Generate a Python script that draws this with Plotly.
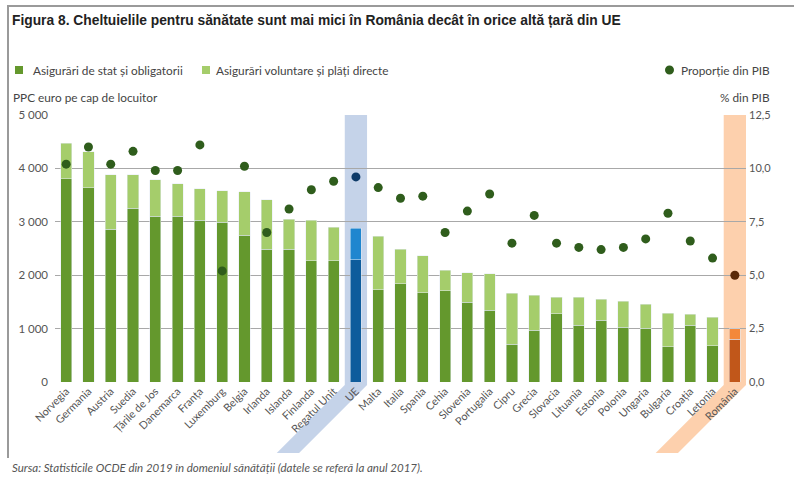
import plotly.graph_objects as go

# date (PPC euro / locuitor si % din PIB)
countries = ["Norvegia", "Germania", "Austria", "Suedia", "Țările de Jos", "Danemarca", "Franța",
             "Luxemburg", "Belgia", "Irlanda", "Islanda", "Finlanda", "Regatul Unit", "UE", "Malta",
             "Italia", "Spania", "Cehia", "Slovenia", "Portugalia", "Cipru", "Grecia", "Slovacia",
             "Lituania", "Estonia", "Polonia", "Ungaria", "Bulgaria", "Croația", "Letonia", "România"]
state = [3810, 3640, 2860, 3250, 3100, 3100, 3030, 2990, 2750, 2490, 2490, 2270, 2270, 2290, 1730,
         1840, 1670, 1710, 1490, 1340, 710, 970, 1280, 1060, 1160, 1030, 1010, 660, 1060, 680, 800]
total = [4470, 4310, 3880, 3880, 3790, 3710, 3620, 3580, 3560, 3410, 3050, 3030, 2900, 2880, 2730,
         2490, 2360, 2090, 2050, 2030, 1660, 1620, 1590, 1590, 1550, 1510, 1460, 1290, 1270, 1210, 1000]
voluntary = [t - s for t, s in zip(total, state)]
gdp_share = [10.2, 11.0, 10.2, 10.8, 9.9, 9.9, 11.1, 5.2, 10.1, 7.0, 8.1, 9.0, 9.4, 9.6, 9.1,
             8.6, 8.7, 7.0, 8.0, 8.8, 6.5, 7.8, 6.5, 6.3, 6.2, 6.3, 6.7, 7.9, 6.6, 5.8, 5.0]

DARK = "#64982d"
LIGHT = "#a5cd6b"
DOT = "#2f5d1c"
EU_DARK, EU_LIGHT, EU_DOT, EU_BAND = "#0e5c9c", "#1f86cf", "#0e3a68", "#c5d3e9"
RO_DARK, RO_LIGHT, RO_DOT, RO_BAND = "#c1571a", "#f4883a", "#5a2806", "#fdd0ad"
TEXT = "#444444"
FONT = "Lato, sans-serif"

W, H = 794, 477
L, R, T, B = 55, 746, 115, 382  # plot area in pixels


def px(x):
    return (x - L) / (R - L)


def py(y):
    return (B - y) / (B - T)


def pick(c, normal, eu, ro):
    return eu if c == "UE" else ro if c == "România" else normal


fig = go.Figure()
fig.add_trace(go.Bar(
    x=countries, y=state, name="Asigurări de stat și obligatorii",
    marker=dict(color=[pick(c, DARK, EU_DARK, RO_DARK) for c in countries]),
    width=0.5, showlegend=False,
))
fig.add_trace(go.Bar(
    x=countries, y=voluntary, name="Asigurări voluntare și plăți directe",
    marker=dict(color=[pick(c, LIGHT, EU_LIGHT, RO_LIGHT) for c in countries]),
    width=0.5, showlegend=False,
))
fig.add_trace(go.Scatter(
    x=countries, y=gdp_share, yaxis="y2", mode="markers", name="Proporție din PIB",
    marker=dict(size=9, color=[pick(c, DOT, EU_DOT, RO_DOT) for c in countries]),
    showlegend=False,
))

shapes = []
# benzi de evidentiere pentru UE si Romania
n = len(countries)
step = (R - L) / n
for name, col in [("UE", EU_BAND), ("România", RO_BAND)]:
    i = countries.index(name)
    x0 = L + i * step
    x1 = x0 + step
    d = 68
    pts = [(x0, T), (x1, T), (x1, B + 3), (x1 - d, B + 3 + d), (x0 - d, B + 3 + d), (x0, B + 3)]
    path = "M " + " L ".join(f"{px(a):.5f},{py(b):.5f}" for a, b in pts) + " Z"
    shapes.append(dict(type="path", path=path, xref="paper", yref="paper",
                       fillcolor=col, line=dict(width=0), layer="below"))

# cadru
shapes.append(dict(type="line", xref="paper", yref="paper", x0=px(7), x1=px(794), y0=py(6), y1=py(6),
                   line=dict(color="#9a9a9a", width=2)))
shapes.append(dict(type="line", xref="paper", yref="paper", x0=px(8), x1=px(8), y0=py(6), y1=py(458),
                   line=dict(color="#9a9a9a", width=2)))

# legenda
for x, col in [(15, DARK), (202, LIGHT)]:
    shapes.append(dict(type="rect", xref="paper", yref="paper", x0=px(x), x1=px(x + 8),
                       y0=py(74), y1=py(66), fillcolor=col, line=dict(width=0)))
shapes.append(dict(type="circle", xref="paper", yref="paper", x0=px(665), x1=px(674),
                   y0=py(74.5), y1=py(65.5), fillcolor=DOT, line=dict(width=0)))

annotations = [
    dict(text="Asigurări de stat și obligatorii", x=px(31), y=py(70)),
    dict(text="Asigurări voluntare și plăți directe", x=px(214), y=py(70)),
    dict(text="Proporție din PIB", x=px(772), y=py(70), xanchor="right"),
    dict(text="PPC euro pe cap de locuitor", x=px(11), y=py(97)),
    dict(text="% din PIB", x=px(772), y=py(97), xanchor="right"),
    dict(text="<i>Sursa: Statisticile OCDE din 2019 în domeniul sănătății (datele se referă la anul 2017).</i>",
         x=px(10), y=py(467), font=dict(size=11.5, color="#555555", family=FONT)),
]
for a in annotations:
    a.setdefault("xanchor", "left")
    a.update(xref="paper", yref="paper", yanchor="middle", showarrow=False)
    a.setdefault("font", dict(size=11.8, color=TEXT, family=FONT))

fig.update_layout(
    width=W, height=H,
    barmode="stack",
    separators=", ",
    paper_bgcolor="white", plot_bgcolor="white",
    margin=dict(l=L, r=W - R, t=T, b=H - B, autoexpand=False),
    font=dict(family=FONT, size=11, color=TEXT),
    title=dict(text="<b>Figura 8. Cheltuielile pentru sănătate sunt mai mici în România decât în orice altă țară din UE</b>",
               x=12 / W, xanchor="left", xref="container", y=1 - 20 / H, yanchor="middle", yref="container",
               font=dict(family="Liberation Sans Narrow, sans-serif", size=13.8, color="#222222")),
    xaxis=dict(range=[-0.5, n - 0.5], tickangle=-45, showgrid=False, showline=False,
               ticks="", tickfont=dict(size=10.8, color="#555555")),
    yaxis=dict(range=[0, 5000], dtick=1000, tickformat=",d", showgrid=True, gridcolor="#a8a8a8",
               gridwidth=1, zeroline=False, ticklabelstandoff=6, tickfont=dict(size=11.5, color="#555555")),
    yaxis2=dict(range=[0, 12.5], dtick=2.5, tickformat=".1f", overlaying="y", side="right",
                showgrid=False, zeroline=False, ticklabelstandoff=2, tickfont=dict(size=11, color="#555555")),
    shapes=shapes,
    annotations=annotations,
)

fig.write_html("out.html", config={"displayModeBar": False},
               post_script="document.body.style.margin = '0px';")
